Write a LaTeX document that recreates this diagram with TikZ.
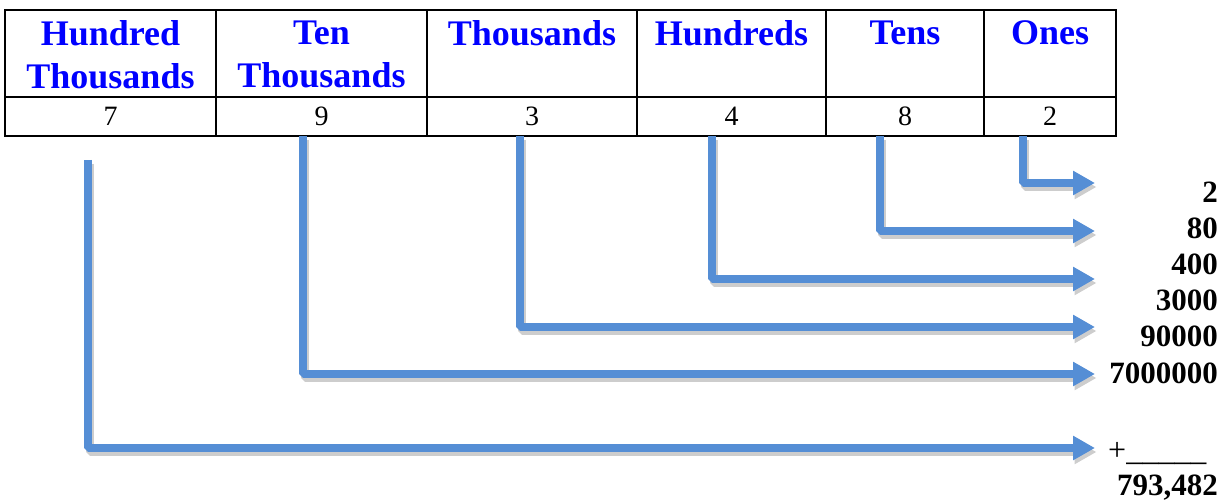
\documentclass[tikz,border=0pt]{standalone}
\usepackage{fontspec}
\setmainfont{Liberation Serif}
\usetikzlibrary{arrows.meta}
\definecolor{hdrblue}{HTML}{0000FF}
\definecolor{arrowblue}{HTML}{558ED5}
\definecolor{shadowgray}{HTML}{CDCDCD}
\tikzset{
  cell/.style={draw=black, line width=2pt, inner sep=0pt, anchor=center},
  hdrtext/.style={font=\fontsize{36}{43}\selectfont\bfseries, text=hdrblue, align=center, anchor=north, inner sep=0pt},
  digit/.style={font=\fontsize{28}{32}\selectfont},
  result/.style={font=\fontsize{31}{36}\selectfont\bfseries, anchor=base east, inner sep=0pt},
  conn/.style={line width=8pt, draw=arrowblue, line join=bevel,
    -{Triangle[length=22pt,width=23pt]},
    preaction={draw=shadowgray, line width=8pt, line join=bevel,
      -{Triangle[length=22pt,width=23pt]},
      transform canvas={shift={(1.5pt,-4pt)}}}}
}
\begin{document}
\begin{tikzpicture}[x=1pt,y=-1pt]
\useasboundingbox (0,0) rectangle (1231,502);
% header cells
\node[cell, minimum width=211pt, minimum height=87pt] (h1) at (110.5,53.5) {};
\node[cell, minimum width=211pt, minimum height=87pt] (h2) at (321.5,53.5) {};
\node[cell, minimum width=210pt, minimum height=87pt] (h3) at (532,53.5) {};
\node[cell, minimum width=189pt, minimum height=87pt] (h4) at (731.5,53.5) {};
\node[cell, minimum width=158pt, minimum height=87pt] (h5) at (905,53.5) {};
\node[cell, minimum width=132pt, minimum height=87pt] (h6) at (1050,53.5) {};
% value cells
\node[cell, digit, minimum width=211pt, minimum height=39pt] (v1) at (110.5,116.5) {7};
\node[cell, digit, minimum width=211pt, minimum height=39pt] (v2) at (321.5,116.5) {9};
\node[cell, digit, minimum width=210pt, minimum height=39pt] (v3) at (532,116.5) {3};
\node[cell, digit, minimum width=189pt, minimum height=39pt] (v4) at (731.5,116.5) {4};
\node[cell, digit, minimum width=158pt, minimum height=39pt] (v5) at (905,116.5) {8};
\node[cell, digit, minimum width=132pt, minimum height=39pt] (v6) at (1050,116.5) {2};
% header texts
\node[hdrtext] (t1) at (110.5,20.5) {Hundred\\Thousands};
\node[hdrtext] (t2) at (321.5,20.5) {Ten\\Thousands};
\node[hdrtext] (t3) at (532,20.5) {Thousands};
\node[hdrtext] (t4) at (731.5,20.5) {Hundreds};
\node[hdrtext] (t5) at (905,20.5) {Tens};
\node[hdrtext] (t6) at (1050,20.5) {Ones};
% result labels
\node[result] (r1) at (1218,203) {2};
\node[result] (r2) at (1218,239) {80};
\node[result] (r3) at (1218,275) {400};
\node[result] (r4) at (1218,311) {3000};
\node[result] (r5) at (1218,347) {90000};
\node[result] (r6) at (1218,383) {7000000};
\node[font=\fontsize{32}{36}\selectfont, anchor=base west, inner sep=0pt] (plus) at (1108,460) {+\_\_\_\_\_};
\node[result] (sum) at (1218,495) {793,482};
% connector start points
\coordinate (s1) at (88,160);
\coordinate (s2) at (303,136);
\coordinate (s3) at (520,136);
\coordinate (s4) at (712,136);
\coordinate (s5) at (880,136);
\coordinate (s6) at (1023,136);
% connector end points
\coordinate (e6) at (1095,183);
\coordinate (e5) at (1095,231);
\coordinate (e4) at (1095,279);
\coordinate (e3) at (1095,327);
\coordinate (e2) at (1095,374);
\coordinate (e1) at (1095,448);
% connectors
\draw[conn] (s6) |- (e6);
\draw[conn] (s5) |- (e5);
\draw[conn] (s4) |- (e4);
\draw[conn] (s3) |- (e3);
\draw[conn] (s2) |- (e2);
\draw[conn] (s1) |- (e1);
\end{tikzpicture}
\end{document}
